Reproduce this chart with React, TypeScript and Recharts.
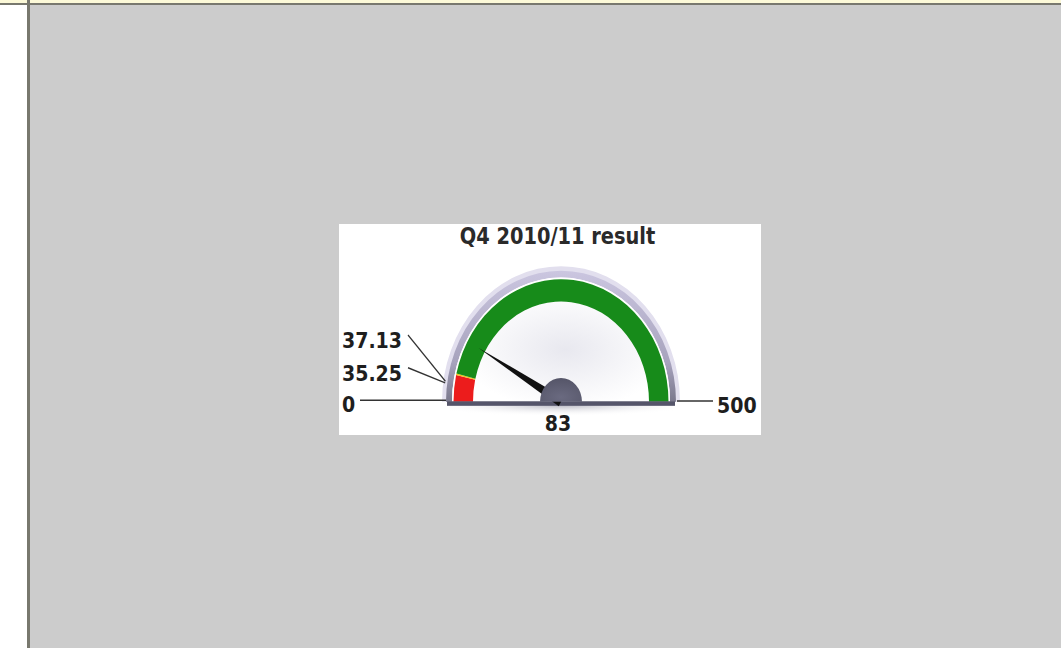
import React from "react";
import { PieChart, Pie, Cell, Customized } from "recharts";

// gauge data
const chartTitle = "Q4 2010/11 result";
const scaleMin = 0;
const scaleMax = 500;
const bandBreaks = [0, 35.25, 37.13, 500];
const bandNames = ["Below", "Warning", "On target"];
const thresholdLabels = ["35.25", "37.13"];
const actualValue = 83;

const bandColors = ["#ec1c1c", "#f2c31c", "#178b1a"];

const W = 422;
const H = 185;
const CX = 222;
const CY = 156;
const STRETCH = 1.14;
const FONT = "'DejaVu Sans', Verdana, sans-serif";

const bands = bandNames.map((name, i) => ({ name, value: bandBreaks[i + 1] - bandBreaks[i] }));
const wholeScale = [{ name: "scale", value: scaleMax - scaleMin }];

// value -> polar angle (degrees, 180 at the left end, 0 at the right)
const toAngle = (v: number) => 180 - ((v - scaleMin) / (scaleMax - scaleMin)) * 180;
const polar = (r: number, deg: number) => {
  const a = (deg * Math.PI) / 180;
  return { x: CX + r * Math.cos(a), y: CY - r * Math.sin(a) };
};

function GaugeDefs() {
  return (
    <defs>
      <linearGradient id="bezelFill" x1="0" y1="0" x2="0" y2="1">
        <stop offset="0%" stopColor="#cbc6e0" />
        <stop offset="70%" stopColor="#a7a3bd" />
        <stop offset="100%" stopColor="#7a788c" />
      </linearGradient>
      <radialGradient id="faceFill" cx="52%" cy="58%" r="48%">
        <stop offset="0%" stopColor="#e8e8ef" />
        <stop offset="100%" stopColor="#ffffff" />
      </radialGradient>
      <radialGradient id="shadowFill" cx="50%" cy="0%" r="60%">
        <stop offset="0%" stopColor="#9c9cab" stopOpacity={0.7} />
        <stop offset="100%" stopColor="#ffffff" stopOpacity={0} />
      </radialGradient>
      <radialGradient id="hubFill" cx="50%" cy="80%" r="80%">
        <stop offset="0%" stopColor="#6a6a80" />
        <stop offset="100%" stopColor="#555568" />
      </radialGradient>
    </defs>
  );
}

function GaugeOverlay() {
  const needleAngle = toAngle(actualValue);
  const tip = polar(95, needleAngle);
  const left = polar(4.5, needleAngle + 90);
  const right = polar(4.5, needleAngle - 90);
  const labelBaseY = [137.6, 108.8];

  return (
    <g>
      {/* shadow and base bar */}
      <rect x={CX - 112} y={CY + 3} width={224} height={16} fill="url(#shadowFill)" />
      <rect x={CX - 114} y={CY - 0.5} width={228} height={4} fill="#55556a" />

      {/* needle */}
      <polygon
        points={`${tip.x},${tip.y} ${left.x},${left.y} ${right.x},${right.y}`}
        fill="#111111"
      />

      {/* end labels */}
      <line x1={21} y1={154.6} x2={CX - 115} y2={154.6} stroke="#333" strokeWidth={1.3} />
      <line x1={CX + 116} y1={155.3} x2={374} y2={155.3} stroke="#333" strokeWidth={1.3} />
      <text x={3} y={164.9} fontFamily={FONT} fontWeight="bold" fontSize={19} fill="#1e1e1e">
        {String(scaleMin)}
      </text>
      <text x={378} y={165.8} fontFamily={FONT} fontWeight="bold" fontSize={19} fill="#1e1e1e">
        {String(scaleMax)}
      </text>

      {/* threshold labels with leader lines */}
      {thresholdLabels.map((label, i) => {
        const end = polar(117, toAngle(bandBreaks[i + 1]) + 4.5);
        return (
          <g key={label}>
            <line x1={69} y1={labelBaseY[i] - 11.5} x2={end.x} y2={end.y} stroke="#333" strokeWidth={1.2} />
            <text x={3} y={labelBaseY[i]} fontFamily={FONT} fontWeight="bold" fontSize={19} fill="#1e1e1e">
              {label}
            </text>
          </g>
        );
      })}

      {/* value and title */}
      <text x={CX - 3} y={182} textAnchor="middle" fontFamily={FONT} fontWeight="bold" fontSize={19} fill="#1e1e1e">
        {String(actualValue)}
      </text>
      <text x={CX - 3.5} y={17.5} textAnchor="middle" fontFamily={FONT} fontWeight="bold" fontSize={19.4} fill="#2a2a2a">
        {chartTitle}
      </text>
    </g>
  );
}

const layer: React.CSSProperties = {
  position: "absolute",
  left: 0,
  top: 0,
  width: W,
  height: H,
  transform: `scaleY(${STRETCH})`,
  transformOrigin: "0 0",
};

export default function App() {
  return (
    <div style={{ position: "fixed", left: 0, top: 0, width: 1061, height: 648, background: "#cccccc", overflow: "hidden" }}>
      <div style={{ position: "absolute", left: 0, top: 0, width: 1061, height: 3, background: "#fcf9d8" }} />
      <div style={{ position: "absolute", left: 0, top: 3, width: 1061, height: 2, background: "#78786e" }} />
      <div style={{ position: "absolute", left: 0, top: 5, width: 27, height: 643, background: "#ffffff" }} />
      <div style={{ position: "absolute", left: 27, top: 0, width: 3, height: 648, background: "#78786e" }} />

      <div style={{ position: "absolute", left: 339, top: 224, width: W, height: 211, background: "#ffffff", overflow: "hidden" }}>
        {/* dial: glow, bezel, face and colour bands */}
        <div style={layer}>
          <PieChart width={W} height={H} margin={{ top: 0, right: 0, bottom: 0, left: 0 }}>
            <Customized component={GaugeDefs} />
            <Pie data={wholeScale} dataKey="value" cx={CX} cy={CY} startAngle={180} endAngle={0}
              innerRadius={114} outerRadius={119} fill="#e2dfee" stroke="none" isAnimationActive={false} />
            <Pie data={wholeScale} dataKey="value" cx={CX} cy={CY} startAngle={180} endAngle={0}
              innerRadius={109} outerRadius={115} fill="url(#bezelFill)" stroke="none" isAnimationActive={false} />
            <Pie data={wholeScale} dataKey="value" cx={CX} cy={CY} startAngle={180} endAngle={0}
              innerRadius={0} outerRadius={109} fill="url(#faceFill)" stroke="none" isAnimationActive={false} />
            <Pie data={bands} dataKey="value" nameKey="name" cx={CX} cy={CY} startAngle={180} endAngle={0}
              innerRadius={88} outerRadius={107.5} stroke="none" isAnimationActive={false}>
              {bands.map((b, i) => (
                <Cell key={b.name} fill={bandColors[i]} />
              ))}
            </Pie>
          </PieChart>
        </div>
        {/* needle, hub and texts */}
        <div style={layer}>
          <PieChart width={W} height={H} margin={{ top: 0, right: 0, bottom: 0, left: 0 }}>
            <Customized component={GaugeOverlay} />
            <Pie data={wholeScale} dataKey="value" cx={CX} cy={CY} startAngle={180} endAngle={0}
              innerRadius={0} outerRadius={21} fill="url(#hubFill)" stroke="none" isAnimationActive={false} />
          </PieChart>
        </div>
      </div>
    </div>
  );
}
